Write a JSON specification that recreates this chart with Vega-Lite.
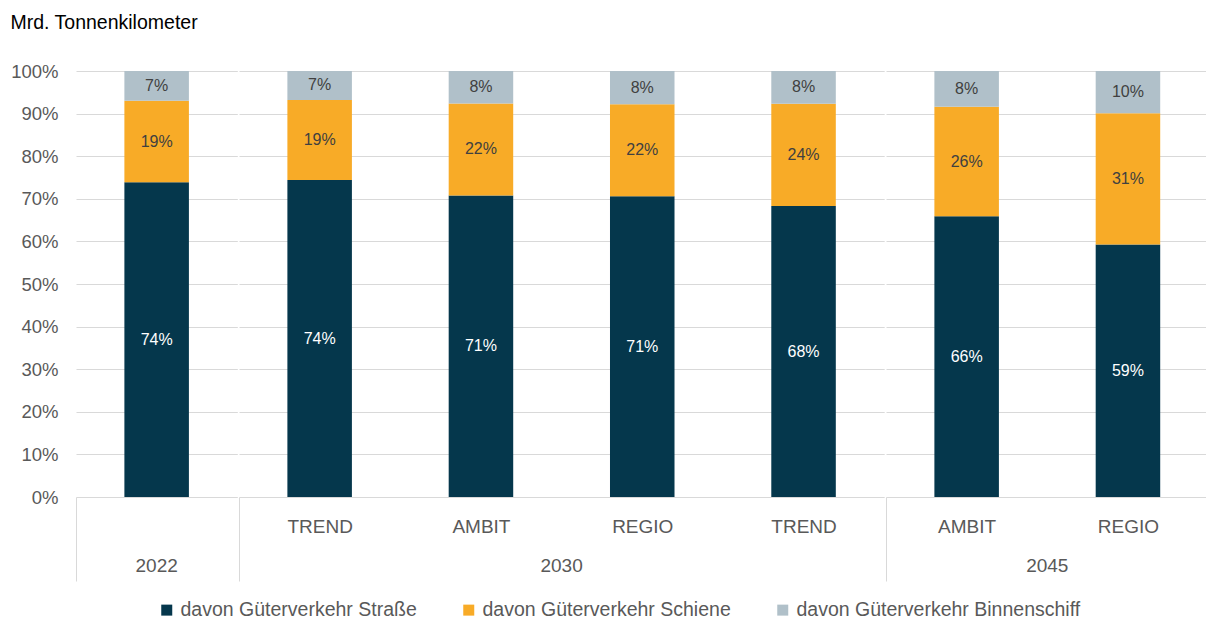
{
  "$schema": "https://vega.github.io/schema/vega-lite/v6.json",
  "background": "white",
  "padding": {"left": 10, "top": 12, "right": 0, "bottom": 0},
  "data": {"values": [
    {"year": "2022", "key": "|1", "idx": 1, "cat": "davon Güterverkehr Straße", "ord": 1, "value": 0.739},
    {"year": "2022", "key": "|1", "idx": 1, "cat": "davon Güterverkehr Schiene", "ord": 2, "value": 0.191},
    {"year": "2022", "key": "|1", "idx": 1, "cat": "davon Güterverkehr Binnenschiff", "ord": 3, "value": 0.070},
    {"year": "2030", "key": "TREND|2", "idx": 2, "cat": "davon Güterverkehr Straße", "ord": 1, "value": 0.744},
    {"year": "2030", "key": "TREND|2", "idx": 2, "cat": "davon Güterverkehr Schiene", "ord": 2, "value": 0.188},
    {"year": "2030", "key": "TREND|2", "idx": 2, "cat": "davon Güterverkehr Binnenschiff", "ord": 3, "value": 0.068},
    {"year": "2030", "key": "AMBIT|3", "idx": 3, "cat": "davon Güterverkehr Straße", "ord": 1, "value": 0.708},
    {"year": "2030", "key": "AMBIT|3", "idx": 3, "cat": "davon Güterverkehr Schiene", "ord": 2, "value": 0.216},
    {"year": "2030", "key": "AMBIT|3", "idx": 3, "cat": "davon Güterverkehr Binnenschiff", "ord": 3, "value": 0.076},
    {"year": "2030", "key": "REGIO|4", "idx": 4, "cat": "davon Güterverkehr Straße", "ord": 1, "value": 0.706},
    {"year": "2030", "key": "REGIO|4", "idx": 4, "cat": "davon Güterverkehr Schiene", "ord": 2, "value": 0.216},
    {"year": "2030", "key": "REGIO|4", "idx": 4, "cat": "davon Güterverkehr Binnenschiff", "ord": 3, "value": 0.078},
    {"year": "2030", "key": "TREND|5", "idx": 5, "cat": "davon Güterverkehr Straße", "ord": 1, "value": 0.683},
    {"year": "2030", "key": "TREND|5", "idx": 5, "cat": "davon Güterverkehr Schiene", "ord": 2, "value": 0.240},
    {"year": "2030", "key": "TREND|5", "idx": 5, "cat": "davon Güterverkehr Binnenschiff", "ord": 3, "value": 0.077},
    {"year": "2045", "key": "AMBIT|6", "idx": 6, "cat": "davon Güterverkehr Straße", "ord": 1, "value": 0.659},
    {"year": "2045", "key": "AMBIT|6", "idx": 6, "cat": "davon Güterverkehr Schiene", "ord": 2, "value": 0.257},
    {"year": "2045", "key": "AMBIT|6", "idx": 6, "cat": "davon Güterverkehr Binnenschiff", "ord": 3, "value": 0.084},
    {"year": "2045", "key": "REGIO|7", "idx": 7, "cat": "davon Güterverkehr Straße", "ord": 1, "value": 0.593},
    {"year": "2045", "key": "REGIO|7", "idx": 7, "cat": "davon Güterverkehr Schiene", "ord": 2, "value": 0.308},
    {"year": "2045", "key": "REGIO|7", "idx": 7, "cat": "davon Güterverkehr Binnenschiff", "ord": 3, "value": 0.099}
  ]},
  "facet": {
    "column": {
      "field": "year", "type": "ordinal",
      "header": {
        "title": null,
        "labelOrient": "bottom",
        "labelFontSize": 19,
        "labelFont": "Liberation Sans",
        "labelColor": "#595959",
        "labelPadding": -25
      }
    }
  },
  "spacing": 0,
  "resolve": {"scale": {"x": "independent"}},
  "spec": {
    "width": {"step": 161.3},
    "height": 426,
    "encoding": {
      "x": {
        "field": "key", "type": "nominal",
        "sort": {"field": "idx", "op": "min"},
        "scale": {"paddingInner": 0.6, "paddingOuter": 0.3},
        "axis": {
          "title": null,
          "labelExpr": "datum.value ? split(datum.value, '|')[0] : ''",
          "labelAngle": 0,
          "labelFontSize": 19,
          "labelFont": "Liberation Sans",
          "labelColor": "#595959",
          "labelPadding": -64,
          "labelBaseline": "top",
          "labelOffset": 80.65,
          "domain": false,
          "grid": false,
          "ticks": true,
          "tickOffset": -80.65,
          "tickSize": 84,
          "tickWidth": 1,
          "tickColor": {"condition": {"test": "datum.index === 0", "value": "#d9d9d9"}, "value": "transparent"}
        }
      },
      "y": {
        "field": "value", "type": "quantitative", "stack": "zero",
        "scale": {"domain": [0, 1], "nice": false},
        "axis": {
          "title": "Mrd. Tonnenkilometer",
          "titleAngle": 0,
          "titleAlign": "left",
          "titleBaseline": "middle",
          "titleX": -65,
          "titleY": -49,
          "titleFont": "Liberation Sans",
          "titleFontSize": 19.5,
          "titleFontWeight": "normal",
          "titleColor": "#000000",
          "format": ".0%",
          "values": [0, 0.1, 0.2, 0.3, 0.4, 0.5, 0.6, 0.7, 0.8, 0.9, 1],
          "labelFontSize": 18.5,
          "labelFont": "Liberation Sans",
          "labelColor": "#595959",
          "labelPadding": 17,
          "ticks": false,
          "domain": false,
          "grid": true,
          "gridColor": "#d9d9d9",
          "gridWidth": 1
        }
      },
      "order": {"field": "ord", "type": "quantitative"}
    },
    "layer": [
      {
        "mark": {"type": "bar"},
        "encoding": {
          "color": {
            "field": "cat", "type": "nominal",
            "scale": {
              "domain": ["davon Güterverkehr Straße", "davon Güterverkehr Schiene", "davon Güterverkehr Binnenschiff"],
              "range": ["#05374c", "#f8ab27", "#b0c0c9"]
            },
            "legend": {
              "title": null,
              "orient": "none",
              "legendX": 81,
              "legendY": 529,
              "direction": "horizontal",
              "symbolType": "square",
              "symbolSize": 121,
              "symbolStrokeWidth": 0,
              "labelFont": "Liberation Sans",
              "labelFontSize": 19.5,
              "labelColor": "#595959",
              "columnPadding": 42,
              "labelLimit": 400
            }
          }
        }
      },
      {
        "mark": {"type": "text", "font": "Liberation Sans", "fontSize": 16, "baseline": "middle"},
        "encoding": {
          "y": {"field": "value", "type": "quantitative", "stack": "zero", "bandPosition": 0.5},
          "text": {"field": "value", "type": "quantitative", "format": ".0%"},
          "color": {"condition": {"test": "datum.ord === 1", "value": "#ffffff"}, "value": "#404040"}
        }
      }
    ]
  },
  "config": {
    "view": {"stroke": null},
    "font": "Liberation Sans"
  }
}
